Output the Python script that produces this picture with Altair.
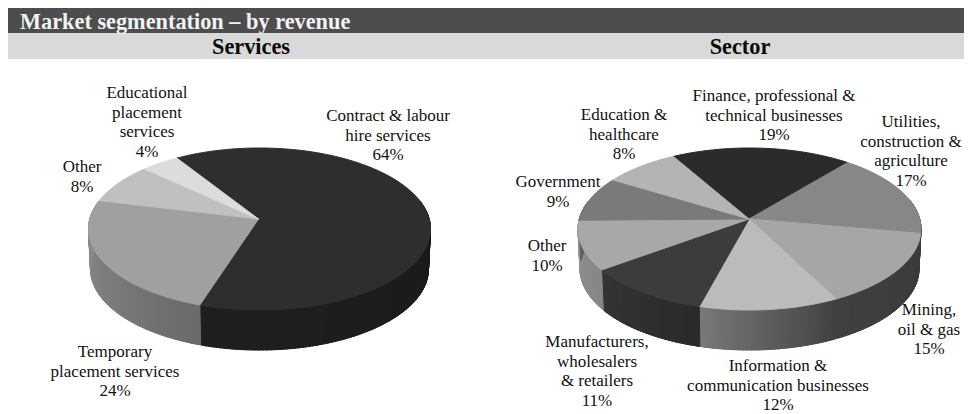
import math
import altair as alt

# ---- values ----
services_names = ["Contract & labour hire services", "Temporary placement services", "Other", "Educational placement services"]
services_share = [64, 24, 8, 4]
sector_names = ["Finance, professional & technical businesses", "Utilities, construction & agriculture",
                "Mining, oil & gas", "Information & communication businesses",
                "Manufacturers, wholesalers & retailers", "Other", "Government", "Education & healthcare"]
sector_share = [19, 17, 15, 12, 11, 10, 9, 8]

# ---- styles ----
services_top = ["#2e2e2e", "#a0a0a0", "#c0c0c0", "#dcdcdc"]
services_wall = [(0x16, 0x1f), (0x6a, 0x90), (0xa0, 0xa0), (0xb0, 0xb0)]
sector_top = ["#2b2b2b", "#878787", "#a6a6a6", "#bbbbbb", "#3c3c3c", "#a8a8a8", "#7a7a7a", "#b4b4b4"]
sector_wall = [(0x20, 0x20), (0x44, 0x40), (0x3a, 0x40), (0x40, 0x78), (0x2a, 0x34), (0x86, 0x92), (0x60, 0x60), (0x80, 0x80)]

# ---- layout (page pixels) ----
OFF = 8
W, H = 956, 406
LEFT = dict(cx=259.5, cy=229, rx=171, ry=81, apex=(258.5, 219), start=-32.0)
RIGHT = dict(cx=749.5, cy=229, rx=171.5, ry=81, apex=(749, 219), start=-29.2)
DEPTH, RX_SHRINK = 40, 2
PERSP = 0.9

services_labels = [
    (388, 116, ["Contract & labour", "hire services", "64%"]),
    (115, 352, ["Temporary", "placement services", "24%"]),
    (82, 167, ["Other", "8%"]),
    (147, 93, ["Educational", "placement", "services", "4%"]),
]
sector_labels = [
    (774, 96, ["Finance, professional &", "technical businesses", "19%"]),
    (911, 122, ["Utilities,", "construction &", "agriculture", "17%"]),
    (929, 310, ["Mining,", "oil & gas", "15%"]),
    (778, 366, ["Information &", "communication businesses", "12%"]),
    (597, 342, ["Manufacturers,", "wholesalers", "& retailers", "11%"]),
    (547, 246, ["Other", "10%"]),
    (558, 182, ["Government", "9%"]),
    (624, 115, ["Education &", "healthcare", "8%"]),
]


def rim_angle(theta):
    """True pie angle (deg from top, clockwise) -> angle on the foreshortened ellipse."""
    t = math.radians(theta) / 2
    return math.degrees(2 * math.atan2(math.sin(t) * PERSP, math.cos(t)))


def unwrap(phi, ref):
    while phi < ref:
        phi += 360
    return phi


def pt(p, phi, low=False):
    a = math.radians(phi)
    if low:
        return [p["cx"] + (p["rx"] - RX_SHRINK) * math.sin(a) - OFF,
                p["cy"] + DEPTH - p["ry"] * math.cos(a) - OFF]
    return [p["cx"] + p["rx"] * math.sin(a) - OFF, p["cy"] - p["ry"] * math.cos(a) - OFF]


def feature(ring, color):
    return {"type": "Feature", "properties": {"color": color},
            "geometry": {"type": "Polygon", "coordinates": [ring + [ring[0]]]}}


def gray(v):
    v = int(round(v))
    return f"#{v:02x}{v:02x}{v:02x}"


def pie(p, shares, tops, walls):
    walls_out, tops_out = [], []
    total = float(sum(shares))
    theta = p["start"]
    for share, top, (g0, g1) in zip(shares, tops, walls):
        next_theta = theta + 360 * share / total
        n = max(4, int(share * 3))
        phis = []
        last = None
        for i in range(n + 1):
            phi = rim_angle(theta + (next_theta - theta) * i / n)
            if last is not None:
                phi = unwrap(phi, last)
            phis.append(phi)
            last = phi
        # wall strips: only the part facing the viewer; later strips overlap earlier ones
        for i in range(n):
            for shift in (0, 360):
                a, b = phis[i] + shift, phis[i + 1] + shift
                if b > 70 and a < 290:
                    f = (i + 0.5) / n
                    a0 = a - (0.8 if i else 0.0)
                    walls_out.append(feature([pt(p, a0), pt(p, b), pt(p, b, True), pt(p, a0, True)],
                                             gray(g0 + (g1 - g0) * f)))
        ring = [[p["apex"][0] - OFF, p["apex"][1] - OFF]] + [pt(p, x) for x in phis]
        tops_out.append(feature(ring, top))
        theta = next_theta
    return walls_out, tops_out


w1, t1 = pie(LEFT, services_share, services_top, services_wall)
w2, t2 = pie(RIGHT, sector_share, sector_top, sector_wall)
features = w1 + w2 + t1 + t2

LINE = 19.6
label_rows = []
for x, y, lines in services_labels + sector_labels:
    for i, s in enumerate(lines):
        label_rows.append({"x": x - OFF, "y": y + i * LINE - OFF, "t": s})

bars = [
    {"x": -1, "x2": W + 8, "y": -1, "y2": 25, "c": "#4d4d4d"},
    {"x": -1, "x2": W + 8, "y": 25, "y2": 51, "c": "#d9d9d9"},
]
heads = [
    {"x": 251 - OFF, "y": 47 - OFF, "t": "Services"},
    {"x": 740 - OFF, "y": 47 - OFF, "t": "Sector"},
]
title = [{"x": 20 - OFF, "y": 21.5 - OFF, "t": "Market segmentation – by revenue"}]

FONT = "Liberation Serif"
X = lambda f="x": alt.X(f"{f}:Q", scale=None, axis=None)
Y = lambda f="y": alt.Y(f"{f}:Q", scale=None, axis=None)

bar_layer = alt.Chart(alt.Data(values=bars)).mark_rect().encode(
    x=X(), x2="x2:Q", y=Y(), y2="y2:Q", fill=alt.Fill("c:N", scale=None))
title_layer = alt.Chart(alt.Data(values=title)).mark_text(
    font=FONT, fontSize=22.3, fontWeight="bold", align="left", baseline="middle", color="#f2f2f2"
).encode(x=X(), y=Y(), text="t:N")
head_layer = alt.Chart(alt.Data(values=heads)).mark_text(
    font=FONT, fontSize=22.3, fontWeight="bold", align="center", baseline="middle", color="#0a0a0a"
).encode(x=X(), y=Y(), text="t:N")
geo_layer = alt.Chart(alt.Data(values=features)).mark_geoshape(strokeWidth=1).encode(
    fill=alt.Fill("properties.color:N", scale=None),
    stroke=alt.Stroke("properties.color:N", scale=None),
).project(type="identity", scale=1, translate=[0, 0])
label_layer = alt.Chart(alt.Data(values=label_rows)).mark_text(
    font=FONT, fontSize=17, align="center", baseline="middle", color="#111111"
).encode(x=X(), y=Y(), text="t:N")

chart = alt.layer(bar_layer, geo_layer, title_layer, head_layer, label_layer).properties(
    width=W, height=H, padding=0, background="white",
    autosize=alt.AutoSizeParams(type="none"),
).configure_view(stroke=None)

chart.save("out.html", embed_options={"renderer": "svg", "actions": False})
